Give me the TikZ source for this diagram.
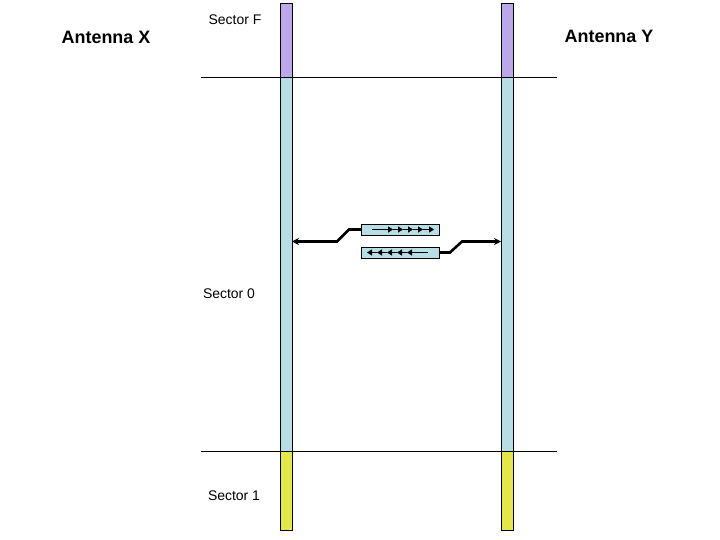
\documentclass[tikz,border=0pt]{standalone}
\usepackage{fontspec}
\setmainfont{Liberation Sans}
\usetikzlibrary{arrows.meta,calc}
\definecolor{purp}{RGB}{186,168,234}
\definecolor{lblue}{RGB}{182,222,228}
\definecolor{yel}{RGB}{228,232,70}
\begin{document}
\begin{tikzpicture}[x=1bp,y=-1bp,
  seg/.style={draw=black,line width=0.9bp,minimum width=12bp,inner sep=0pt,outer sep=0pt},
  sline/.style={draw=black,line width=0.8bp},
  pbox/.style={draw=black,line width=0.8bp,fill=lblue,minimum width=78bp,minimum height=11bp,inner sep=0pt,outer sep=0pt},
  conn/.style={draw=black,line width=2.6bp,-{Stealth[length=7bp,width=7bp]}},
  chain/.style={draw=black,line width=1.4bp,-{Triangle[length=5bp,width=6bp]}},
  title/.style={font=\fontsize{18}{20}\selectfont\bfseries},
  lab/.style={font=\fontsize{14}{16}\selectfont}]
\useasboundingbox (0,0) rectangle (720,540);
\fill[white] (0,0) rectangle (720,540);
% sector borders
\coordinate (l1a) at (201,77); \coordinate (l1b) at (557,77);
\coordinate (l2a) at (201,451); \coordinate (l2b) at (557,451);
\draw[sline] (l1a) -- (l1b);
\draw[sline] (l2a) -- (l2b);
% antenna X bar
\node[seg,fill=purp,minimum height=74bp] (xF) at (286,40) {};
\node[seg,fill=lblue,minimum height=374bp] (xO) at (286,264) {};
\node[seg,fill=yel,minimum height=79bp] (xI) at (286,490.5) {};
% antenna Y bar
\node[seg,fill=purp,minimum height=74bp] (yF) at (507,40) {};
\node[seg,fill=lblue,minimum height=374bp] (yO) at (507,264) {};
\node[seg,fill=yel,minimum height=79bp] (yI) at (507,490.5) {};
% packet boxes
\node[pbox] (b1) at (400,229.5) {};
\node[pbox] (b2) at (400,252.5) {};
% arrow chains
\foreach \a/\b in {11/32,32/42,42/52,52/62,62/73}
  \draw[chain] ($(b1.west)+(\a,0)$) -- ($(b1.west)+(\b,0)$);
\draw[draw=black,line width=1.4bp] ($(b2.west)+(56,0)$) -- ($(b2.west)+(67,0)$);
\foreach \a/\b in {56/46,46/36,36/26,26/16,16/6}
  \draw[chain] ($(b2.west)+(\a,0)$) -- ($(b2.west)+(\b,0)$);
% connectors
\coordinate (la) at (337,241.5);
\coordinate (ra) at (462,241.5);
\draw[conn] (b1.west) -- ++(-12,0) -- (la) -- (la -| xO.east);
\draw[conn] (b2.east) -- ++(11,0) -- (ra) -- (ra -| yO.west);
% labels
\node[title] (ax) at (106,37) {Antenna X};
\node[title] (ay) at (609,36) {Antenna Y};
\node[lab] (sF) at (235,20) {Sector F};
\node[lab] (s0) at (229,294) {Sector 0};
\node[lab] (s1) at (234,496) {Sector 1};
\end{tikzpicture}
\end{document}
